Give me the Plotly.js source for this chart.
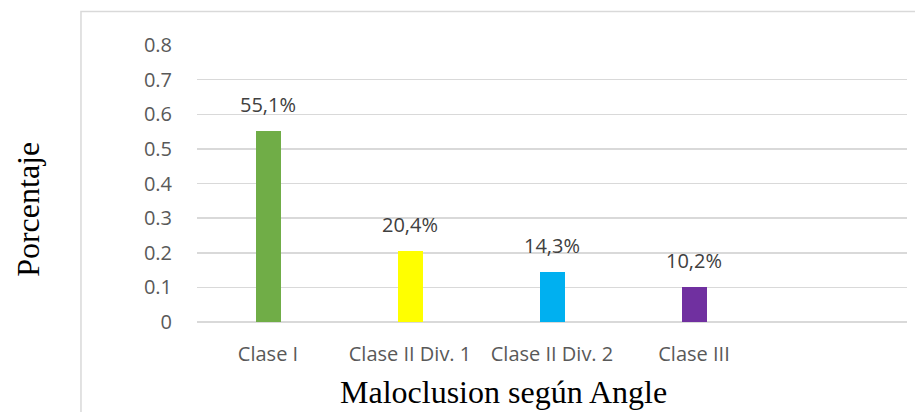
<!DOCTYPE html>
<html>
<head>
<meta charset="utf-8">
<script src="https://cdn.plot.ly/plotly-3.0.1.min.js"></script>
<style>html,body{margin:0;padding:0;background:#fff;}#chart{width:915px;height:412px;}</style>
</head>
<body>
<div id="chart"></div>
<script>
const categories = ["Clase I", "Clase II Div. 1", "Clase II Div. 2", "Clase III"];
const values = [0.551, 0.204, 0.143, 0.102];
const valueLabels = ["55,1%", "20,4%", "14,3%", "10,2%"];
const barColors = ["#70AD47", "#FFFF00", "#00B0F0", "#7030A0"];
const yTicks = [0, 0.1, 0.2, 0.3, 0.4, 0.5, 0.6, 0.7, 0.8];
const yTickText = ["0", "0.1", "0.2", "0.3", "0.4", "0.5", "0.6", "0.7", "0.8"];
const xTitle = "Maloclusion según Angle";
const yTitle = "Porcentaje";

const xPos = categories.map((c, i) => i);

const trace = {
  type: "bar",
  x: xPos,
  y: values,
  width: 0.176,
  marker: {color: barColors},
  hoverinfo: "skip"
};

const labelAnnotations = values.map((v, i) => ({
  x: xPos[i], y: v, xref: "x", yref: "y",
  text: valueLabels[i], showarrow: false,
  yanchor: "bottom", yshift: 11,
  font: {family: "Open Sans", size: 20, color: "#404040"}
}));

const layout = {
  width: 915, height: 412,
  margin: {l: 197, r: 8, t: 44.5, b: 89.5},
  paper_bgcolor: "#fff", plot_bgcolor: "#fff",
  showlegend: false,
  bargap: 0,
  xaxis: {
    range: [-0.5, 4.5],
    tickvals: xPos, ticktext: categories,
    showgrid: false, zeroline: false, showline: false,
    ticks: "outside", ticklen: 14, tickcolor: "rgba(0,0,0,0)",
    tickfont: {family: "Open Sans", size: 20, color: "#595959"},
    fixedrange: true
  },
  yaxis: {
    range: [0, 0.8],
    tickvals: yTicks, ticktext: yTickText,
    showgrid: true, gridcolor: "#d9d9d9", gridwidth: 1.5,
    zeroline: true, zerolinecolor: "#d9d9d9", zerolinewidth: 1.5,
    showline: false,
    ticks: "outside", ticklen: 20, tickcolor: "rgba(0,0,0,0)",
    tickfont: {family: "Open Sans", size: 20, color: "#595959"},
    fixedrange: true
  },
  shapes: [{
    type: "rect", xref: "paper", yref: "paper",
    x0: -0.1634, x1: 1.05, y0: -0.5, y1: 1.1205,
    line: {color: "#d9d9d9", width: 1.5}, fillcolor: "rgba(0,0,0,0)", layer: "below"
  }],
  annotations: labelAnnotations.concat([
    {xref: "paper", yref: "paper", x: 0.431, y: -0.2536, text: xTitle, showarrow: false,
     xanchor: "center", yanchor: "middle",
     font: {family: "Liberation Serif", size: 32, color: "#000"}},
    {xref: "paper", yref: "paper", x: -0.238, y: 0.405, text: yTitle, showarrow: false,
     xanchor: "center", yanchor: "middle", textangle: -90,
     font: {family: "Liberation Serif", size: 32, color: "#000"}}
  ])
};

Plotly.newPlot("chart", [trace], layout, {displayModeBar: false, staticPlot: true});
</script>
</body>
</html>
